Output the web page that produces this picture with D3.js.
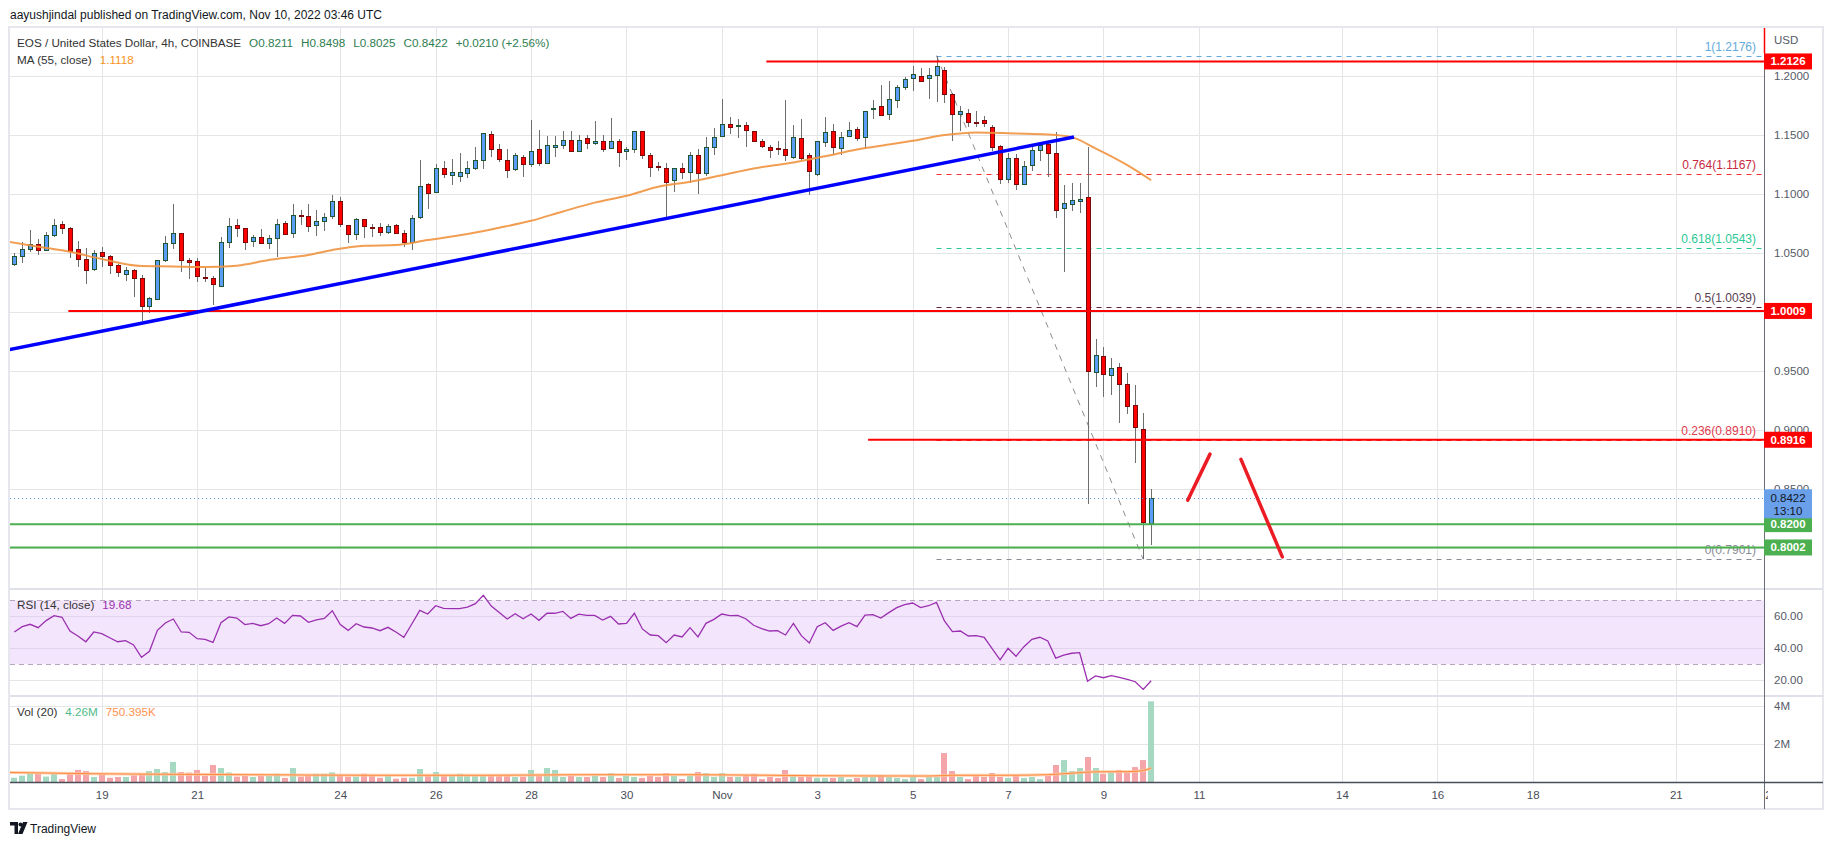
<!DOCTYPE html>
<html>
<head>
<meta charset="utf-8" />
<title>EOS / United States Dollar, 4h</title>
<style>
  body { margin: 0; background: #fff; }
  svg text { font-family: "Liberation Sans", Arial, sans-serif; }
</style>
</head>
<body>
<script src="https://d3js.org/d3.v7.min.js"></script>
<script>

// 4h candles, Oct 17 04:00 -> Nov 10 00:00 (index 0..143)
var open = [1.0404,1.0469,1.0531,1.0574,1.0523,1.0650,1.0743,1.0712,1.0531,1.0446,
            1.0362,1.0506,1.0472,1.0398,1.0322,1.0356,1.0285,1.0048,1.0107,1.0438,
            1.0582,1.0667,1.0438,1.0429,1.0297,1.0285,1.0218,1.0590,1.0735,1.0712,
            1.0599,1.0636,1.0582,1.0624,1.0751,1.0667,1.0822,1.0811,1.0735,1.0768,
            1.0819,1.0938,1.0735,1.0658,1.0785,1.0720,1.0718,1.0675,1.0735,1.0667,
            1.0590,1.0802,1.1082,1.1011,1.1218,1.1167,1.1150,1.1184,1.1226,1.1294,
            1.1514,1.1387,1.1294,1.1209,1.1319,1.1252,1.1387,1.1268,1.1404,1.1421,
            1.1463,1.1370,1.1480,1.1432,1.1455,1.1396,1.1455,1.1362,1.1387,1.1540,
            1.1336,1.1235,1.1226,1.1116,1.1218,1.1184,1.1328,1.1184,1.1404,1.1497,
            1.1599,1.1582,1.1591,1.1540,1.1455,1.1404,1.1390,1.1379,1.1319,1.1480,
            1.1328,1.1175,1.1447,1.1540,1.1396,1.1497,1.1557,1.1489,1.1729,1.1752,
            1.1675,1.1799,1.1909,1.1983,1.2000,1.1983,1.2009,1.2051,1.1847,1.1680,
            1.1688,1.1614,1.1626,1.1569,1.1407,1.1129,1.1308,1.1084,1.1248,1.1370,
            1.1427,1.1348,1.0880,1.0917,1.0942,1.0976,0.9493,0.9629,0.9468,0.9535,
            0.9385,0.9207,0.9003,0.8211];
var high = [1.0503,1.0590,1.0695,1.0619,1.0678,1.0788,1.0771,1.0723,1.0602,1.0545,
            1.0525,1.0551,1.0483,1.0410,1.0384,1.0367,1.0314,1.0130,1.0438,1.0644,
            1.0915,1.0667,1.0458,1.0458,1.0373,1.0308,1.0638,1.0800,1.0791,1.0712,
            1.0653,1.0703,1.0653,1.0788,1.0771,1.0915,1.0867,1.0915,1.0864,1.0839,
            1.0989,1.0975,1.0735,1.0797,1.0785,1.0746,1.0754,1.0749,1.0749,1.0692,
            1.0819,1.1288,1.1093,1.1260,1.1280,1.1297,1.1348,1.1283,1.1398,1.1523,
            1.1534,1.1424,1.1381,1.1348,1.1328,1.1633,1.1548,1.1497,1.1497,1.1534,
            1.1540,1.1506,1.1506,1.1624,1.1500,1.1644,1.1472,1.1404,1.1540,1.1540,
            1.1353,1.1271,1.1263,1.1218,1.1263,1.1356,1.1382,1.1489,1.1560,1.1805,
            1.1653,1.1636,1.1616,1.1540,1.1464,1.1421,1.1447,1.1797,1.1585,1.1636,
            1.1353,1.1455,1.1653,1.1599,1.1531,1.1610,1.1574,1.1709,1.1797,1.1924,
            1.1958,1.1926,1.1994,1.2088,1.2068,1.2068,1.2176,1.2077,1.1855,1.1748,
            1.1722,1.1705,1.1660,1.1586,1.1421,1.1353,1.1342,1.1285,1.1399,1.1444,
            1.1444,1.1529,1.1078,1.1098,1.1098,1.1402,0.9768,0.9700,0.9612,0.9564,
            0.9479,0.9380,0.9141,0.8498];
var low = [1.0393,1.0418,1.0511,1.0483,1.0520,1.0638,1.0658,1.0461,1.0379,1.0240,
           1.0350,1.0379,1.0325,1.0294,1.0266,1.0130,0.9927,0.9989,1.0107,1.0427,
           1.0537,1.0342,1.0283,1.0257,1.0251,1.0062,1.0218,1.0545,1.0638,1.0528,
           1.0551,1.0576,1.0537,1.0469,1.0658,1.0630,1.0737,1.0681,1.0647,1.0689,
           1.0788,1.0720,1.0582,1.0613,1.0630,1.0638,1.0647,1.0661,1.0664,1.0548,
           1.0528,1.0791,1.0876,1.1009,1.1141,1.1079,1.1107,1.1141,1.1209,1.1212,
           1.1316,1.1274,1.1139,1.1198,1.1147,1.1232,1.1235,1.1268,1.1316,1.1381,
           1.1370,1.1370,1.1384,1.1421,1.1359,1.1396,1.1232,1.1288,1.1353,1.1300,
           1.1147,1.1198,1.0808,1.1020,1.1130,1.1091,1.1003,1.1158,1.1331,1.1497,
           1.1509,1.1480,1.1401,1.1455,1.1390,1.1308,1.1328,1.1283,1.1302,1.1294,
           1.0995,1.1158,1.1404,1.1328,1.1328,1.1497,1.1455,1.1387,1.1636,1.1675,
           1.1625,1.1728,1.1881,1.1872,1.1949,1.1807,1.1779,1.1770,1.1447,1.1532,
           1.1566,1.1566,1.1566,1.1362,1.1084,1.1095,1.1033,1.1075,1.1195,1.1280,
           1.1144,1.0800,1.0338,1.0854,1.0837,0.8373,0.9360,0.9275,0.9292,0.9054,
           0.9138,0.8722,0.7901,0.8025];
var close = [1.0475,1.0531,1.0574,1.0523,1.0650,1.0735,1.0709,1.0520,1.0446,1.0353,
             1.0497,1.0472,1.0396,1.0336,1.0353,1.0285,1.0045,1.0116,1.0438,1.0582,
             1.0667,1.0438,1.0421,1.0302,1.0291,1.0235,1.0590,1.0726,1.0709,1.0590,
             1.0636,1.0582,1.0627,1.0743,1.0658,1.0819,1.0811,1.0726,1.0768,1.0802,
             1.0946,1.0743,1.0658,1.0785,1.0726,1.0718,1.0675,1.0726,1.0667,1.0590,
             1.0794,1.1065,1.1006,1.1218,1.1167,1.1192,1.1184,1.1226,1.1294,1.1523,
             1.1387,1.1302,1.1209,1.1328,1.1260,1.1362,1.1268,1.1421,1.1421,1.1463,
             1.1370,1.1463,1.1438,1.1449,1.1387,1.1455,1.1362,1.1379,1.1540,1.1336,
             1.1235,1.1223,1.1108,1.1218,1.1184,1.1328,1.1175,1.1404,1.1489,1.1599,
             1.1574,1.1585,1.1548,1.1455,1.1413,1.1379,1.1387,1.1328,1.1489,1.1311,
             1.1192,1.1455,1.1531,1.1404,1.1489,1.1548,1.1480,1.1709,1.1731,1.1675,
             1.1805,1.1909,1.1975,1.2017,1.1958,1.2009,1.2085,1.1847,1.1677,1.1705,
             1.1612,1.1612,1.1603,1.1396,1.1127,1.1308,1.1087,1.1240,1.1376,1.1416,
             1.1348,1.0866,1.0925,1.0951,1.0962,0.9502,0.9638,0.9473,0.9527,0.9394,
             0.9198,0.9020,0.8211,0.8422];

var volume = [0.24,0.35,0.49,0.45,0.30,0.45,0.17,0.49,0.65,0.59,
              0.28,0.45,0.24,0.28,0.28,0.37,0.44,0.59,0.70,0.54,
              1.07,0.54,0.51,0.65,0.35,0.91,0.75,0.52,0.30,0.35,
              0.28,0.35,0.35,0.45,0.23,0.75,0.30,0.38,0.45,0.45,
              0.52,0.38,0.30,0.30,0.45,0.35,0.24,0.35,0.19,0.24,
              0.24,0.70,0.35,0.54,0.35,0.35,0.45,0.35,0.35,0.35,
              0.35,0.35,0.35,0.28,0.30,0.65,0.35,0.75,0.65,0.28,
              0.35,0.28,0.28,0.35,0.28,0.49,0.23,0.35,0.28,0.23,
              0.35,0.28,0.49,0.35,0.17,0.35,0.54,0.49,0.28,0.49,
              0.28,0.28,0.38,0.45,0.17,0.28,0.23,0.65,0.35,0.28,
              0.35,0.23,0.23,0.23,0.28,0.17,0.23,0.28,0.28,0.38,
              0.28,0.23,0.17,0.35,0.17,0.28,0.28,1.54,0.59,0.28,
              0.17,0.35,0.28,0.49,0.28,0.23,0.38,0.23,0.28,0.17,
              0.35,0.91,1.17,0.59,0.75,1.33,0.75,0.45,0.59,0.65,
              0.59,0.80,1.17,4.26];

var rsi = [50.2,53.5,55.0,52.9,57.3,60.4,59.4,50.8,47.7,44.1,
           50.2,49.2,46.6,44.1,44.8,42.1,34.4,38.1,51.2,55.8,
           58.3,50.2,50.0,46.0,45.6,43.7,56.0,59.6,58.9,54.8,
           55.6,54.1,55.4,58.9,55.6,60.6,60.2,56.2,57.7,58.7,
           63.5,54.8,51.2,55.4,53.3,52.7,51.0,53.1,50.2,46.9,
           55.2,63.7,61.4,66.6,65.0,64.8,64.8,65.8,67.9,73.1,
           66.4,62.3,58.3,61.6,58.5,61.4,57.5,61.9,61.9,63.1,
           58.7,61.4,60.6,60.6,57.7,60.0,55.2,55.6,61.9,52.1,
           48.3,47.9,43.5,48.3,47.1,52.9,47.1,55.6,58.1,61.4,
           60.4,60.6,58.5,54.4,52.3,50.8,51.0,48.3,55.6,47.9,
           43.3,53.5,56.0,51.2,53.9,56.0,53.5,60.8,61.0,58.9,
           62.3,65.4,67.3,68.3,65.4,66.6,68.7,57.1,50.4,50.8,
           47.7,47.9,46.9,39.8,32.7,40.0,35.0,41.0,45.6,46.9,
           44.6,33.9,35.8,36.9,37.3,19.4,22.7,21.6,22.9,21.9,
           20.6,19.1,14.3,19.68];

// MA(55)
var maIdx = [-1,3,7,11,16,20,24,28,32,37,40,44,48,52,57,61,65,69,73,77,81,85,89,93,98,102,106,110,113,117,121,126,130,133,136,140,143];
var maVal = [1.0600,1.0554,1.0511,1.0449,1.0390,1.0387,1.0381,1.0393,1.0441,1.0484,1.0526,1.0562,1.0568,1.0610,1.0661,1.0715,1.0774,1.0853,1.0928,1.0986,1.1062,1.1105,1.1161,1.1218,1.1269,1.1322,1.1379,1.1421,1.1453,1.1501,1.1524,1.1515,1.1507,1.1484,1.1388,1.1246,1.1118];

// Volume MA(20), millions
var volMaIdx = [-1,10,20,30,45,60,72,85,100,115,118,125,130,133,136,140,142,143];
var volMaVal = [0.52,0.45,0.42,0.40,0.37,0.37,0.40,0.40,0.35,0.33,0.37,0.37,0.40,0.48,0.55,0.56,0.62,0.75];

var dayTickIdx = [11,23,41,53,65,77,89,101,113,125,137,149,167,179,191,209,221];
var dayTickLabel = ["19","21","24","26","28","30","Nov","3","5","7","9","11","14","16","18","21","23"];

var priceGrid = [0.80,0.85,0.90,0.95,1.00,1.05,1.10,1.15,1.20];
var priceTickLabels = [0.85,0.90,0.95,1.05,1.10,1.15,1.20];
var rsiGrid = [20,40,60];
var volGrid = [2,4];

// drawn horizontal levels
var levelPrice = [1.2126,1.0009,0.8916,0.8200,0.8002];
var levelStart = [94.6,6.8,107.4,-3,-3];
var levelColor = ["#ff0000","#ff0000","#ff0000","#4caf50","#4caf50"];

// fibonacci retracement
var fibRatio = ["1","0.764","0.618","0.5","0.236","0"];
var fibPrice = [1.2176,1.1167,1.0543,1.0039,0.8910,0.7901];
var fibColor = ["#64a9dc","#f23030","#2bc996","#5c1f3f","#f23030","#8a8d96"];
var fibLabelColor = ["#64a9dc","#c8283f","#2bc996","#5a4050","#e03a4e","#8a8d96"];
var fibFrom = [116,1.2176], fibTo = [142,0.7901];

// trend line and projection arrows
var trendIdx = [-0.67,133.3], trendPrice = [0.968,1.1485];
var arrowUpIdx = [147.6,150.4], arrowUpPrice = [0.8403,0.8794];
var arrowDownIdx = [154.3,159.5], arrowDownPrice = [0.8749,0.7922];

var lastPrice = 0.8422;
var lastChange = "+0.0210 (+2.56%)";
var volMaLast = "750.395K";

var W = 1834, H = 845;
var left = 10, axisX = 1764, frameRight = 1823;
var mainTop = 28, mainBottom = 589, rsiBottom = 696, volBottom = 782, timeBottom = 809;

var svg = d3.select("body").append("svg")
            .attr("width", W)
            .attr("height", H)
            .style("display", "block");

svg.append("rect").attr("width", W).attr("height", H).attr("fill", "#fff");

var x = d3.scaleLinear().domain([0, 143]).range([14.3, 14.3 + 143 * 7.95]);
var y = d3.scaleLinear().domain([0.8, 1.2]).range([547.7, 76.3]);
var yRsi = d3.scaleLinear().domain([20, 70]).range([680.3, 600.3]);
var yVol = d3.scaleLinear().domain([0, 4]).range([782.3, 706.3]);

var defs = svg.append("defs");
function clip(id, y0, y1, x1) {
    defs.append("clipPath").attr("id", id).append("rect")
        .attr("x", left).attr("y", y0).attr("width", (x1 || axisX) - left).attr("height", y1 - y0);
}
clip("cMain", mainTop, mainBottom);
clip("cRsi", mainBottom, rsiBottom);
clip("cVol", rsiBottom, volBottom);
clip("cTime", volBottom, timeBottom, 1768);

// header
svg.append("text")
   .attr("x", 10).attr("y", 19)
   .style("font-size", "12px").attr("fill", "#131722")
   .text("aayushjindal published on TradingView.com, Nov 10, 2022 03:46 UTC");

// frame
svg.append("rect")
   .attr("x", 9).attr("y", 27).attr("width", frameRight - 9).attr("height", timeBottom - 27)
   .attr("fill", "none").attr("stroke", "#e6e7ec").attr("stroke-width", 2);

// grid
var grid = svg.append("g").attr("stroke", "#e5e5e8").attr("stroke-width", 1);
grid.selectAll("line.v").data(dayTickIdx.filter(d => x(d) < axisX)).enter().append("line")
    .attr("x1", d => Math.round(x(d)) + 0.5).attr("x2", d => Math.round(x(d)) + 0.5)
    .attr("y1", mainTop).attr("y2", volBottom);
grid.selectAll("line.p").data(priceGrid).enter().append("line")
    .attr("x1", left).attr("x2", axisX)
    .attr("y1", d => Math.round(y(d)) + 0.5).attr("y2", d => Math.round(y(d)) + 0.5);
grid.selectAll("line.r").data(rsiGrid).enter().append("line")
    .attr("x1", left).attr("x2", axisX)
    .attr("y1", d => Math.round(yRsi(d)) + 0.5).attr("y2", d => Math.round(yRsi(d)) + 0.5);
grid.selectAll("line.vv").data(volGrid).enter().append("line")
    .attr("x1", left).attr("x2", axisX)
    .attr("y1", d => Math.round(yVol(d)) + 0.5).attr("y2", d => Math.round(yVol(d)) + 0.5);

// pane separators
[mainBottom, rsiBottom].forEach(function(py) {
    svg.append("line").attr("x1", left).attr("x2", frameRight).attr("y1", py).attr("y2", py)
       .attr("stroke", "#e0e1e8").attr("stroke-width", 2);
});

var main = svg.append("g").attr("clip-path", "url(#cMain)");

// fib levels
var fibs = fibPrice.map((p, k) => ({p: p, r: fibRatio[k], c: fibColor[k], lc: fibLabelColor[k]}));
main.selectAll("line.fib").data(fibs).enter().append("line")
    .attr("x1", x(fibFrom[0])).attr("x2", axisX)
    .attr("y1", d => Math.round(y(d.p)) + 0.5).attr("y2", d => Math.round(y(d.p)) + 0.5)
    .attr("stroke", d => d.c).attr("stroke-width", 1).attr("stroke-dasharray", "5,5");
main.selectAll("text.fib").data(fibs).enter().append("text")
    .attr("x", axisX - 8).attr("y", d => y(d.p) - 5)
    .attr("text-anchor", "end").style("font-size", "12px")
    .attr("fill", d => d.lc)
    .text(d => d.r + "(" + d.p.toFixed(4) + ")");

// fib diagonal
main.append("line")
    .attr("x1", x(fibFrom[0])).attr("y1", y(fibFrom[1]))
    .attr("x2", x(fibTo[0])).attr("y2", y(fibTo[1]))
    .attr("stroke", "#8c8c8c").attr("stroke-width", 1).attr("stroke-dasharray", "6,6");

// candles
var candles = d3.range(open.length).map(i => ({i: i, o: open[i], h: high[i], l: low[i], c: close[i], up: close[i] >= open[i]}));
var cg = main.append("g").selectAll("g").data(candles).enter().append("g");
cg.append("line")
  .attr("x1", d => Math.round(x(d.i)) + 0.5).attr("x2", d => Math.round(x(d.i)) + 0.5)
  .attr("y1", d => Math.round(y(d.h))).attr("y2", d => Math.round(y(d.l)))
  .attr("stroke", "#6e6e70").attr("stroke-width", 1);
cg.append("rect")
  .attr("x", d => Math.round(x(d.i)) - 1.5)
  .attr("y", d => Math.round(y(Math.max(d.o, d.c))) + 0.5)
  .attr("width", 4)
  .attr("height", d => Math.max(1, Math.round(Math.abs(y(d.o) - y(d.c)))))
  .attr("fill", d => d.up ? "#5b9cf6" : "#ff0000")
  .attr("stroke", d => d.up ? "#1e5631" : "#7a0a0a")
  .attr("stroke-width", 1);

// MA 55
main.append("path")
    .datum(maIdx.map((d, k) => [d, maVal[k]]))
    .attr("d", d3.line().x(d => x(d[0])).y(d => y(d[1])).curve(d3.curveMonotoneX))
    .attr("fill", "none").attr("stroke", "#ef9440").attr("stroke-width", 2).attr("opacity", 0.9);

// horizontal levels
main.selectAll("line.lvl").data(levelPrice).enter().append("line")
    .attr("x1", (d, k) => x(levelStart[k])).attr("x2", axisX)
    .attr("y1", d => y(d)).attr("y2", d => y(d))
    .attr("stroke", (d, k) => levelColor[k]).attr("stroke-width", 2);

// trend line
main.append("line")
    .attr("x1", x(trendIdx[0])).attr("y1", y(trendPrice[0]))
    .attr("x2", x(trendIdx[1])).attr("y2", y(trendPrice[1]))
    .attr("stroke", "#0000ff").attr("stroke-width", 3.5);

// last price line
main.append("line")
    .attr("x1", left).attr("x2", axisX)
    .attr("y1", Math.round(y(lastPrice)) + 0.5).attr("y2", Math.round(y(lastPrice)) + 0.5)
    .attr("stroke", "#5b9cf6").attr("stroke-width", 1).attr("stroke-dasharray", "1,3");

// arrows
[[arrowUpIdx, arrowUpPrice], [arrowDownIdx, arrowDownPrice]].forEach(function(a) {
    main.append("line")
        .attr("x1", x(a[0][0])).attr("y1", y(a[1][0]))
        .attr("x2", x(a[0][1])).attr("y2", y(a[1][1]))
        .attr("stroke", "#ec1c24").attr("stroke-width", 3.5).attr("stroke-linecap", "round");
});

// RSI pane
var rsiG = svg.append("g").attr("clip-path", "url(#cRsi)");
rsiG.append("rect")
    .attr("x", left).attr("width", axisX - left)
    .attr("y", yRsi(70)).attr("height", yRsi(30) - yRsi(70))
    .attr("fill", "#f3e6fc");
[70, 30].forEach(function(v) {
    rsiG.append("line").attr("x1", left).attr("x2", axisX)
        .attr("y1", Math.round(yRsi(v)) + 0.5).attr("y2", Math.round(yRsi(v)) + 0.5)
        .attr("stroke", "#b3a6bd").attr("stroke-dasharray", "5,4");
});
rsiG.selectAll("line.rg").data(rsiGrid.filter(v => v < 70 && v > 30)).enter().append("line")
    .attr("x1", left).attr("x2", axisX)
    .attr("y1", d => Math.round(yRsi(d)) + 0.5).attr("y2", d => Math.round(yRsi(d)) + 0.5)
    .attr("stroke", "#e2d3ee");
rsiG.append("path")
    .datum(rsi)
    .attr("d", d3.line().x((d, i) => x(i)).y(d => yRsi(d)))
    .attr("fill", "none").attr("stroke", "#9a2fb0").attr("stroke-width", 1.3);

// Volume pane
var volG = svg.append("g").attr("clip-path", "url(#cVol)");
volG.selectAll("rect").data(candles).enter().append("rect")
    .attr("x", d => Math.round(x(d.i)) - 3)
    .attr("width", 6)
    .attr("y", d => yVol(volume[d.i]))
    .attr("height", d => yVol(0) - yVol(volume[d.i]))
    .attr("fill", d => d.up ? "#a6d9c2" : "#f4a5aa");
volG.append("path")
    .datum(volMaIdx.map((d, k) => [d, volMaVal[k]]))
    .attr("d", d3.line().x(d => x(d[0])).y(d => yVol(d[1])).curve(d3.curveMonotoneX))
    .attr("fill", "none").attr("stroke", "#ffc59c").attr("stroke-width", 3).attr("opacity", 0.8);
volG.append("path")
    .datum(volMaIdx.map((d, k) => [d, volMaVal[k]]))
    .attr("d", d3.line().x(d => x(d[0])).y(d => yVol(d[1])).curve(d3.curveMonotoneX))
    .attr("fill", "none").attr("stroke", "#ff8a3d").attr("stroke-width", 1);

// axis lines
svg.append("line").attr("x1", axisX + 0.5).attr("x2", axisX + 0.5).attr("y1", mainTop).attr("y2", timeBottom)
   .attr("stroke", "#6a6d78").attr("stroke-width", 1);
svg.append("line").attr("x1", left).attr("x2", frameRight).attr("y1", volBottom + 0.5).attr("y2", volBottom + 0.5)
   .attr("stroke", "#4a4d58").attr("stroke-width", 1.5);
svg.append("line").attr("x1", axisX + 0.5).attr("x2", axisX + 0.5).attr("y1", mainTop).attr("y2", y(levelPrice[0]) - 8)
   .attr("stroke", "#ff0000").attr("stroke-width", 1.5);

// price axis
var priceAxis = svg.append("g")
   .attr("transform", "translate(" + axisX + ",0)")
   .call(d3.axisRight(y).tickValues(priceTickLabels).tickFormat(d3.format(".4f")).tickSize(0).tickPadding(10));
var rsiAxis = svg.append("g")
   .attr("transform", "translate(" + axisX + ",0)")
   .call(d3.axisRight(yRsi).tickValues(rsiGrid).tickFormat(d3.format(".2f")).tickSize(0).tickPadding(10));
var volAxis = svg.append("g")
   .attr("transform", "translate(" + axisX + ",0)")
   .call(d3.axisRight(yVol).tickValues(volGrid).tickFormat(d => d + "M").tickSize(0).tickPadding(10));
[priceAxis, rsiAxis, volAxis].forEach(function(a) {
    a.select(".domain").remove();
    a.selectAll("text").attr("fill", "#555a66").style("font-size", "11.5px")
     .style("font-family", "'Liberation Sans', Arial, sans-serif");
});

svg.append("text").attr("x", axisX + 10).attr("y", 44)
   .style("font-size", "11.5px").attr("fill", "#555a66").text("USD");

// time axis
var timeAxis = svg.append("g")
   .attr("clip-path", "url(#cTime)")
   .append("g")
   .attr("transform", "translate(0," + volBottom + ")")
   .call(d3.axisBottom(x).tickValues(dayTickIdx).tickFormat((d, k) => dayTickLabel[k]).tickSize(0).tickPadding(9));
timeAxis.select(".domain").remove();
timeAxis.selectAll("text").attr("fill", "#4a4d58").style("font-size", "11.5px")
        .style("font-family", "'Liberation Sans', Arial, sans-serif");

// price labels on axis
var boxes = levelPrice.map((p, k) => ({p: p, c: levelColor[k]}));
var bx = svg.append("g").selectAll("g").data(boxes).enter().append("g");
bx.append("rect")
  .attr("x", axisX).attr("width", 48)
  .attr("y", d => y(d.p) - 8).attr("height", 16)
  .attr("fill", d => d.c);
bx.append("text")
  .attr("x", axisX + 24).attr("y", d => y(d.p) + 4)
  .attr("text-anchor", "middle").attr("fill", "#fff")
  .style("font-size", "11.5px").style("font-weight", "bold")
  .text(d => d.p.toFixed(4));

svg.append("rect").attr("x", axisX).attr("width", 48)
   .attr("y", y(lastPrice) - 8.7).attr("height", 29)
   .attr("fill", "#6a9fea");
svg.append("text").attr("x", axisX + 24).attr("y", y(lastPrice) + 4)
   .attr("text-anchor", "middle").attr("fill", "#131722").style("font-size", "11.5px")
   .text(lastPrice.toFixed(4));
svg.append("text").attr("x", axisX + 24).attr("y", y(lastPrice) + 17)
   .attr("text-anchor", "middle").attr("fill", "#131722").style("font-size", "11.5px")
   .text("13:10");

// legends
var legSize = "11.7px";
var leg1 = svg.append("text").attr("x", 17).attr("y", 46.5).style("font-size", legSize).attr("fill", "#333");
leg1.append("tspan").text("EOS / United States Dollar, 4h, COINBASE");
[["O", open[143]], ["H", high[143]], ["L", low[143]], ["C", close[143]]].forEach(function(v) {
    leg1.append("tspan").attr("dx", 8).attr("fill", "#2e7d4f").text(v[0] + v[1].toFixed(4));
});
leg1.append("tspan").attr("dx", 8).attr("fill", "#2e7d4f").text(lastChange);

var leg2 = svg.append("text").attr("x", 17).attr("y", 64).style("font-size", legSize).attr("fill", "#333");
leg2.append("tspan").text("MA (55, close)");
leg2.append("tspan").attr("dx", 8).attr("fill", "#f7931a").text(maVal[maVal.length - 1].toFixed(4));

var leg3 = svg.append("text").attr("x", 17).attr("y", 609).style("font-size", legSize).attr("fill", "#333");
leg3.append("tspan").text("RSI (14, close)");
leg3.append("tspan").attr("dx", 8).attr("fill", "#9a2fb0").text(rsi[rsi.length - 1].toFixed(2));

var leg4 = svg.append("text").attr("x", 17).attr("y", 716).style("font-size", legSize).attr("fill", "#333");
leg4.append("tspan").text("Vol (20)");
leg4.append("tspan").attr("dx", 8).attr("fill", "#4fbb8b").text(volume[volume.length - 1].toFixed(2) + "M");
leg4.append("tspan").attr("dx", 8).attr("fill", "#ff9350").text(volMaLast);

// footer logo
var logo = svg.append("g").attr("fill", "#131722");
logo.append("path").attr("d", "M10 822h8v12h-3.5v-8.5H10z");
logo.append("circle").attr("cx", 20.5).attr("cy", 824.5).attr("r", 2);
logo.append("path").attr("d", "M23 822h4.5l-5 12H18z");
svg.append("text").attr("x", 30).attr("y", 832.5).style("font-size", "12px").attr("fill", "#131722")
   .text("TradingView");

</script>
</body>
</html>
